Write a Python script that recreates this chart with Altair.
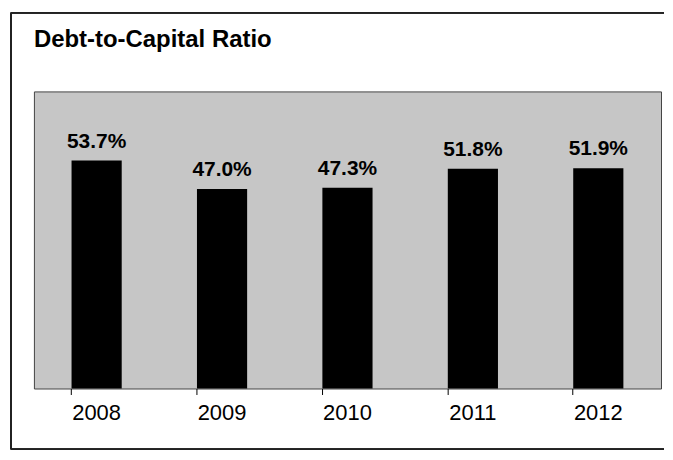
import altair as alt
import pandas as pd

years = ["2008", "2009", "2010", "2011", "2012"]
ratios = [53.7, 47.0, 47.3, 51.8, 51.9]
title_text = "Debt-to-Capital Ratio"

df = pd.DataFrame({"year": years, "ratio": ratios})

W, H = 629, 298
FONT = "Liberation Sans"

x = alt.X(
    "year:N", sort=years, title=None,
    scale=alt.Scale(paddingInner=0.6, paddingOuter=0.3),
    axis=alt.Axis(labelAngle=0, labelFont=FONT, labelFontSize=22, labelColor="black",
                  labelPadding=8, tickColor="black", tickSize=6, tickWidth=1,
                  bandPosition=0, domain=False, ticks=True, grid=False),
)
y = alt.Y("ratio:Q", scale=alt.Scale(domain=[0, 70]), axis=None)

base = alt.Chart(df)
bars = base.mark_bar(color="black").encode(x=x, y=y)
labels = base.transform_calculate(
    label="format(datum.ratio, '.1f') + '%'"
).mark_text(dy=-13, baseline="alphabetic", font=FONT, fontSize=21, fontWeight="bold",
            color="black").encode(x=x, y=y, text="label:N")

title = alt.Chart(pd.DataFrame({"t": [title_text]})).mark_text(
    align="left", baseline="alphabetic", font=FONT, fontSize=24, fontWeight="bold", color="black"
).encode(x=alt.value(0), y=alt.value(-45), text="t:N")

frame_left = base.mark_rule(color="#222", strokeWidth=1.5).encode(
    x=alt.value(-23), y=alt.value(-79), y2=alt.value(359))
frame_top = base.mark_rule(color="#222", strokeWidth=1.5).encode(
    x=alt.value(-23), x2=alt.value(632), y=alt.value(-79))
frame_bottom = base.mark_rule(color="#222", strokeWidth=1.5).encode(
    x=alt.value(-23), x2=alt.value(632), y=alt.value(359))

chart = alt.layer(frame_left, frame_top, frame_bottom, bars, labels, title).properties(
    width=W, height=H,
    padding={"left": 2, "top": 3, "right": 0, "bottom": 0},
    background="white",
).configure_view(fill="#c6c6c6", stroke="#444", strokeWidth=1)

chart.save("out.html", embed_options={"renderer": "svg", "actions": False})
